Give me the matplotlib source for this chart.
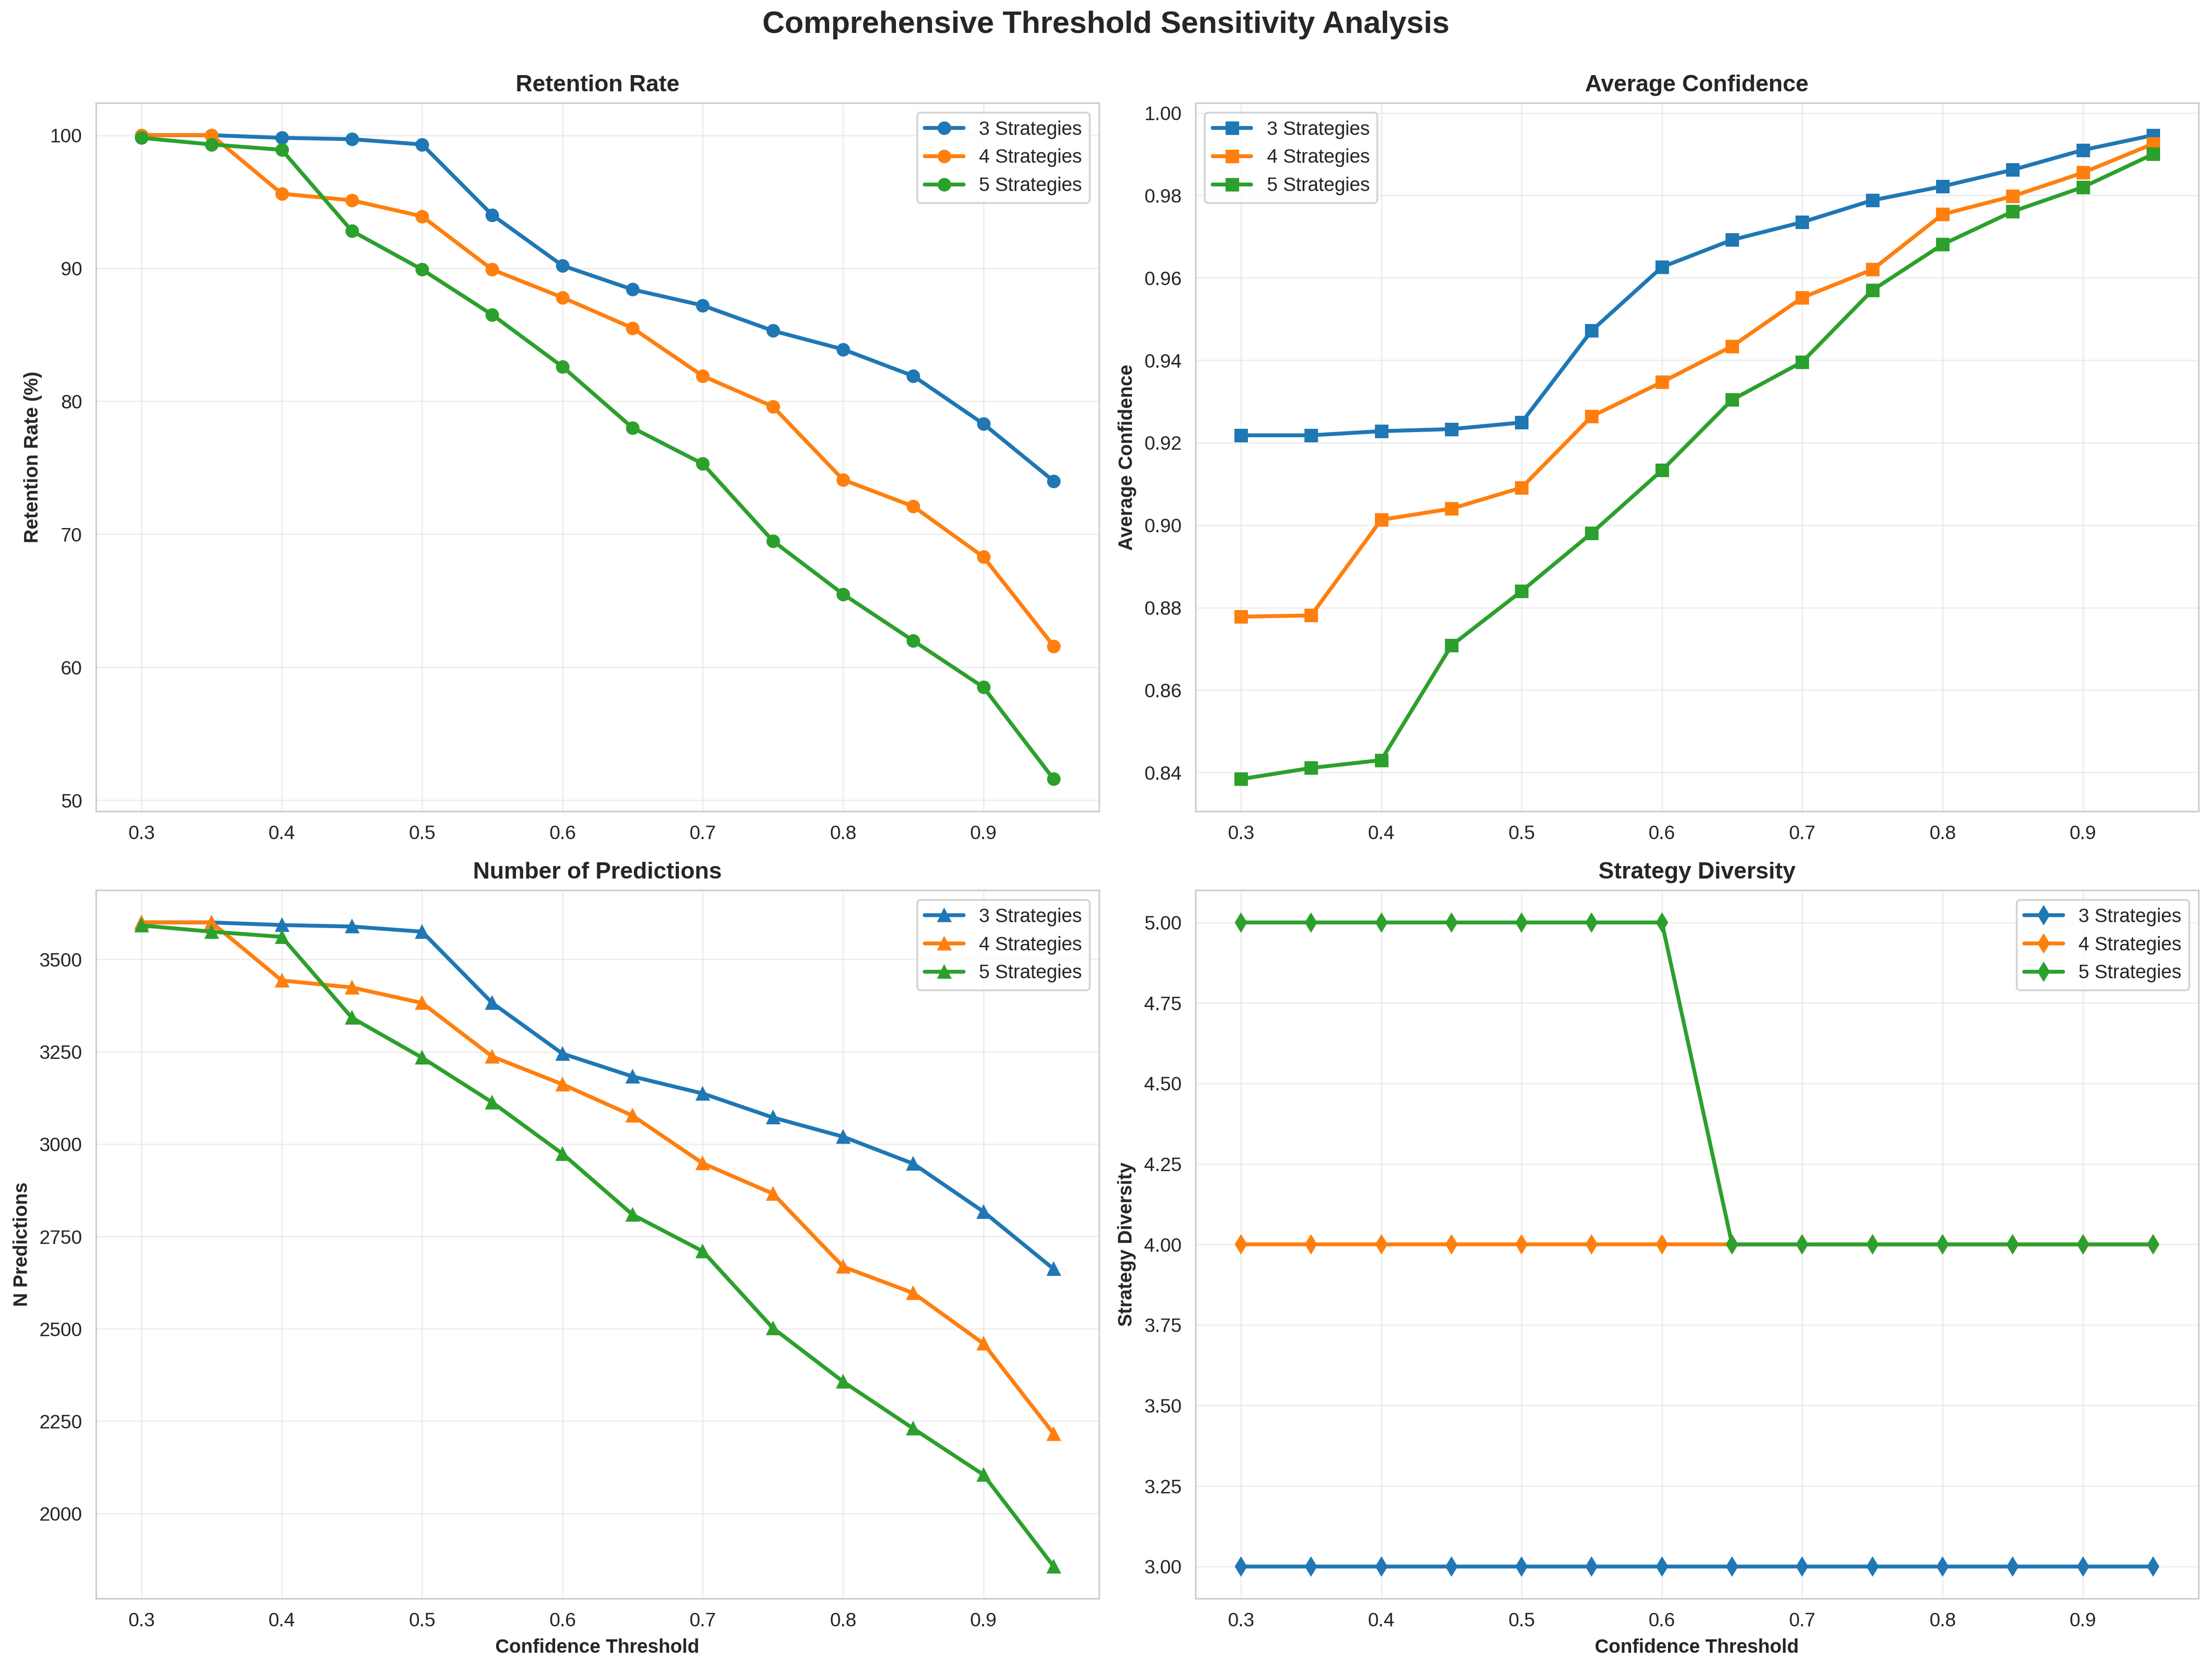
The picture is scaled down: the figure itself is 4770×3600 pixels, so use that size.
import numpy as np
import matplotlib
matplotlib.use("Agg")
import matplotlib.pyplot as plt
import seaborn as sns

sns.set_style("whitegrid")
plt.rcParams['font.family'] = ['Liberation Sans', 'DejaVu Sans']

thresholds = [0.3, 0.35, 0.4, 0.45, 0.5, 0.55, 0.6, 0.65, 0.7, 0.75, 0.8, 0.85, 0.9, 0.95]
labels = ["3 Strategies", "4 Strategies", "5 Strategies"]

retention_3 = [100.0, 100.0, 99.8, 99.7, 99.3, 94.0, 90.2, 88.4, 87.2, 85.3, 83.9, 81.9, 78.3, 74.0]
retention_4 = [100.0, 100.0, 95.6, 95.1, 93.9, 89.9, 87.8, 85.5, 81.9, 79.6, 74.1, 72.1, 68.3, 61.6]
retention_5 = [99.8, 99.3, 98.9, 92.8, 89.9, 86.5, 82.6, 78.0, 75.3, 69.5, 65.5, 62.0, 58.5, 51.6]

confidence_3 = [0.9218, 0.9218, 0.9228, 0.9233, 0.9249, 0.9472, 0.9626, 0.9692, 0.9735, 0.9788, 0.9822, 0.9862, 0.9910, 0.9946]
confidence_4 = [0.8778, 0.8781, 0.9013, 0.9040, 0.9091, 0.9264, 0.9347, 0.9434, 0.9552, 0.9620, 0.9754, 0.9798, 0.9855, 0.9925]
confidence_5 = [0.8384, 0.8411, 0.8430, 0.8708, 0.8840, 0.8981, 0.9133, 0.9304, 0.9396, 0.9570, 0.9681, 0.9761, 0.9820, 0.9900]

preds_3 = [3600, 3600, 3593, 3589, 3575, 3382, 3245, 3183, 3137, 3072, 3020, 2947, 2817, 2662]
preds_4 = [3600, 3600, 3443, 3424, 3382, 3237, 3162, 3077, 2948, 2866, 2668, 2597, 2460, 2216]
preds_5 = [3592, 3575, 3561, 3342, 3234, 3113, 2974, 2809, 2710, 2502, 2357, 2230, 2105, 1857]

diversity_3 = [3] * 14
diversity_4 = [4] * 14
diversity_5 = [5, 5, 5, 5, 5, 5, 5, 4, 4, 4, 4, 4, 4, 4]

colors = ['#1f77b4', '#ff7f0e', '#2ca02c']

fig, axes = plt.subplots(2, 2, figsize=(15.9, 12.0))
fig.suptitle("Comprehensive Threshold Sensitivity Analysis", fontsize=16, fontweight='bold',
             y=0.985, va='center')

panels = [
    (axes[0, 0], [retention_3, retention_4, retention_5], 'o', "Retention Rate", "Retention Rate (%)", 'upper right'),
    (axes[0, 1], [confidence_3, confidence_4, confidence_5], 's', "Average Confidence", "Average Confidence", 'upper left'),
    (axes[1, 0], [preds_3, preds_4, preds_5], '^', "Number of Predictions", "N Predictions", 'upper right'),
    (axes[1, 1], [diversity_3, diversity_4, diversity_5], 'd', "Strategy Diversity", "Strategy Diversity", 'upper right'),
]

for ax, series, marker, title, ylabel, loc in panels:
    for vals, lab, c in zip(series, labels, colors):
        ax.plot(thresholds, vals, marker=marker, label=lab, color=c, linewidth=2, markersize=6)
    ax.set_title(title, fontsize=12, fontweight='bold')
    ax.set_ylabel(ylabel, fontweight='bold')
    ax.legend(loc=loc)
    ax.grid(True, alpha=0.3)

axes[1, 0].set_xlabel("Confidence Threshold", fontweight='bold')
axes[1, 1].set_xlabel("Confidence Threshold", fontweight='bold')

plt.subplots_adjust(left=0.0433, right=0.994, top=0.9383, bottom=0.0422, wspace=0.0957, hspace=0.1115)
plt.savefig("out.png", dpi=300)
